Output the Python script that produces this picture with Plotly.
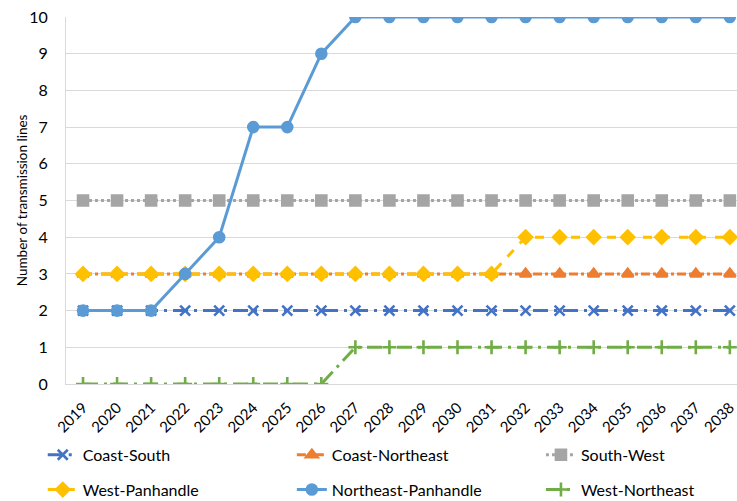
import plotly.graph_objects as go

years = [str(y) for y in range(2019, 2039)]

coast_south = [2] * 20
coast_northeast = [3] * 20
south_west = [5] * 20
west_panhandle = [3] * 13 + [4] * 7
northeast_panhandle = [2, 2, 2, 3, 4, 7, 7, 9] + [10] * 12
west_northeast = [0] * 8 + [1] * 12

# name, values, colour, dash, marker symbol, marker size, legend column
series = [
    ("Coast-South", coast_south, "#4472C4", "longdashdot", "x-thin-open", 10, "legend"),
    ("Coast-Northeast", coast_northeast, "#ED7D31", "dashdot", "triangle-up", 10, "legend2"),
    ("South-West", south_west, "#A5A5A5", "dot", "square", 10, "legend3"),
    ("West-Panhandle", west_panhandle, "#FFC000", "dash", "diamond", 10, "legend"),
    ("Northeast-Panhandle", northeast_panhandle, "#5B9BD5", "solid", "circle", 10, "legend2"),
    ("West-Northeast", west_northeast, "#70AD47", "longdashdot", "cross-thin-open", 10, "legend3"),
]

FONT = "Lato, 'Open Sans', sans-serif"

fig = go.Figure()
for name, vals, color, dash, symbol, size, leg in series:
    fig.add_trace(go.Scatter(
        x=years, y=vals, name=name, mode="lines+markers",
        legend=leg, legendgroup=name,
        line=dict(color=color, width=3, dash=dash),
        marker=dict(symbol=symbol, size=size, color=color,
                    line=dict(color=color, width=2.6)),
    ))

def legend_box(xpos):
    return dict(
        orientation="v", x=xpos, xref="container", xanchor="left",
        y=0.126, yref="container", yanchor="top",
        font=dict(family=FONT, size=16, color="black"),
        tracegroupgap=11, itemwidth=30, bgcolor="rgba(0,0,0,0)",
    )

fig.update_layout(
    width=737, height=501,
    margin=dict(l=66, r=0, t=17, b=117, autoexpand=False),
    plot_bgcolor="white", paper_bgcolor="white",
    font=dict(family=FONT, size=15, color="black"),
    showlegend=True,
    legend=legend_box(0.058),
    legend2=legend_box(0.396),
    legend3=legend_box(0.734),
    xaxis=dict(
        type="category", range=[-0.5, 19.21],
        showgrid=False, showline=True, linecolor="#D9D9D9", linewidth=1,
        tickangle=-45, ticks="outside", tickcolor="rgba(0,0,0,0)", ticklen=8,
        tickfont=dict(family=FONT, size=15),
    ),
    yaxis=dict(
        range=[0, 10], dtick=1, showgrid=True, gridcolor="#D9D9D9", gridwidth=1,
        showline=True, linecolor="#D9D9D9", zeroline=False,
        ticks="outside", tickcolor="rgba(0,0,0,0)", ticklen=14,
        tickfont=dict(family=FONT, size=16),
    ),
    annotations=[dict(
        text="Number of transmission lines", textangle=-90,
        xref="paper", yref="paper", x=-0.066, y=0.5,
        xanchor="center", yanchor="middle", showarrow=False,
        font=dict(family=FONT, size=13.5, color="black"),
    )],
)

fig.write_html("out.html")
